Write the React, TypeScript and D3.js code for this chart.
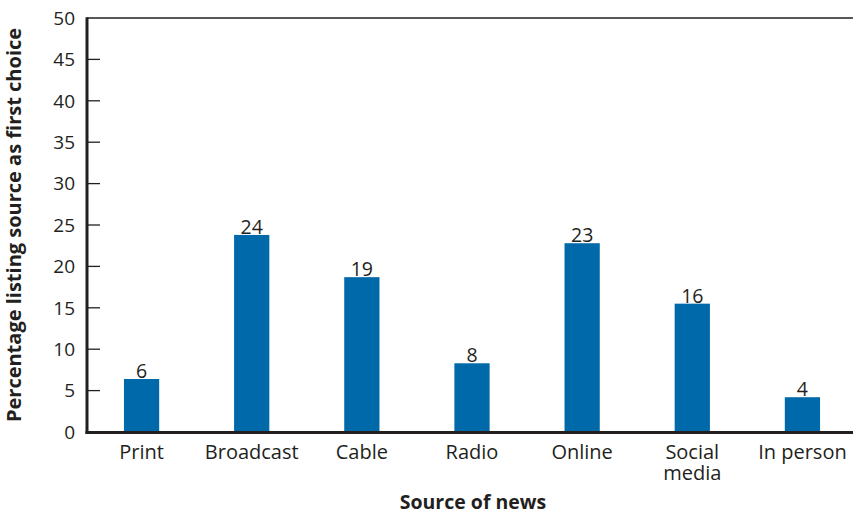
import React from "react";
import * as d3 from "d3";

const categories: string[][] = [["Print"], ["Broadcast"], ["Cable"], ["Radio"], ["Online"], ["Social", "media"], ["In person"]];
const values: number[] = [6.4, 23.8, 18.7, 8.3, 22.8, 15.5, 4.2];
const valueLabels: string[] = ["6", "24", "19", "8", "23", "16", "4"];
const yTicks: number[] = [0, 5, 10, 15, 20, 25, 30, 35, 40, 45, 50];
const yTitle = "Percentage listing source as first choice";
const xTitle = "Source of news";

const W = 853;
const H = 514;
const FONT = "'Open Sans', 'Noto Sans', sans-serif";
const INK = "#231f20";
const BAR = "#0069aa";

export default function App() {
  const keys = categories.map((c) => c.join(" "));
  const x = d3.scaleBand<string>().domain(keys).range([86.5, 857.5]).paddingInner(0.68).paddingOuter(0.34);
  const y = d3.scaleLinear().domain([0, 50]).range([432, 18]);
  const axisX = 87;

  return (
    <svg width={W} height={H} style={{ position: "absolute", left: 0, top: 0, background: "#fff" }} fontFamily={FONT}>
      <rect x={0} y={0} width={W} height={H} fill="#fff" />
      {values.map((v, i) => (
        <rect key={keys[i]} x={x(keys[i])} y={y(v)} width={x.bandwidth()} height={y(0) - y(v)} fill={BAR} />
      ))}
      {values.map((v, i) => (
        <text key={"v" + i} x={(x(keys[i]) as number) + x.bandwidth() / 2} y={y(v) - 1} textAnchor="middle" fontSize={19.5} fill={INK}>
          {valueLabels[i]}
        </text>
      ))}
      {/* top frame line */}
      <line x1={axisX} x2={W} y1={y(50)} y2={y(50)} stroke={INK} strokeWidth={1.5} />
      {/* ticks */}
      {yTicks.filter((t) => t > 0 && t < 50).map((t) => (
        <line key={"t" + t} x1={axisX} x2={100} y1={y(t)} y2={y(t)} stroke={INK} strokeWidth={1.3} />
      ))}
      {yTicks.map((t) => (
        <text key={"l" + t} x={75} y={y(t)} dy="0.36em" textAnchor="end" fontSize={19} fill={INK}>
          {t}
        </text>
      ))}
      {/* axes */}
      <line x1={axisX} x2={axisX} y1={y(50) - 0.75} y2={y(0) + 2} stroke={INK} strokeWidth={3} />
      <line x1={axisX - 1.5} x2={W} y1={y(0) + 0.5} y2={y(0) + 0.5} stroke={INK} strokeWidth={3} />
      {categories.map((c, i) =>
        c.map((line, j) => (
          <text key={"c" + i + "_" + j} x={(x(keys[i]) as number) + x.bandwidth() / 2} y={458.5 + j * 21.5} textAnchor="middle" fontSize={20} fill={INK}>
            {line}
          </text>
        ))
      )}
      <text x={473} y={508.5} textAnchor="middle" fontSize={19.5} fontWeight="bold" fill={INK}>
        {xTitle}
      </text>
      <text transform={`translate(21,${(y(0) + y(50)) / 2}) rotate(-90)`} textAnchor="middle" fontSize={20} fontWeight="bold" fill={INK}>
        {yTitle}
      </text>
    </svg>
  );
}
